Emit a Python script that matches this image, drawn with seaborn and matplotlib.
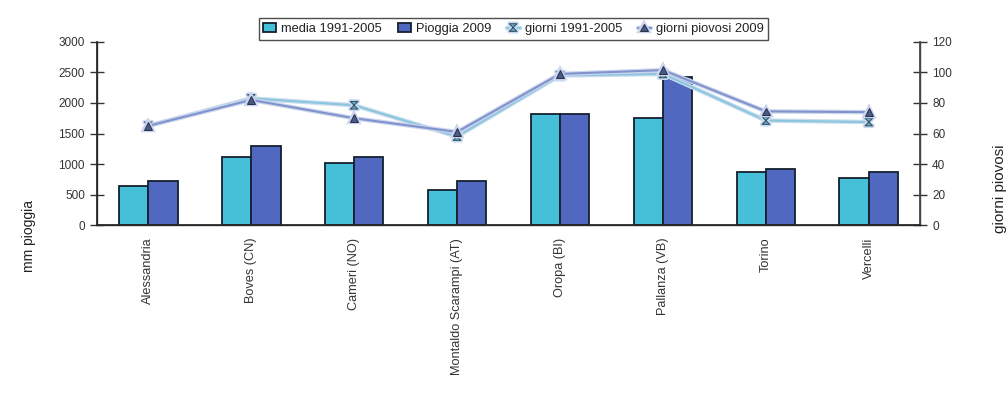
import numpy as np
import pandas as pd
import matplotlib
matplotlib.use("Agg")
import matplotlib.pyplot as plt
import matplotlib.patheffects as pe
from matplotlib.path import Path
import seaborn as sns

categories = ["Alessandria", "Boves (CN)", "Cameri (NO)", "Montaldo Scarampi (AT)",
              "Oropa (BI)", "Pallanza (VB)", "Torino", "Vercelli"]
media_1991_2005 = [640, 1120, 1015, 575, 1825, 1755, 865, 775]
pioggia_2009 = [715, 1300, 1120, 730, 1815, 2430, 920, 875]
giorni_1991_2005 = [65, 83, 78.5, 58, 98, 99, 68.5, 67.5]
giorni_piovosi_2009 = [65, 82, 70, 61, 99, 101.5, 74.5, 74]
bar_labels = ["media 1991-2005", "Pioggia 2009"]
line_labels = ["giorni 1991-2005", "giorni piovosi 2009"]

sns.set_theme(style="white")
plt.rcParams['font.family'] = ['Liberation Sans', 'DejaVu Sans']

df = pd.DataFrame({
    "cat": categories * 2,
    "val": media_1991_2005 + pioggia_2009,
    "serie": [bar_labels[0]] * len(categories) + [bar_labels[1]] * len(categories),
})

fig = plt.figure(figsize=(10.08, 3.95), dpi=100)
ax = fig.add_axes([0.096, 0.43, 0.817, 0.464])

sns.barplot(data=df, x="cat", y="val", hue="serie", order=categories,
            hue_order=bar_labels, palette=["#45c0d8", "#5068c0"],
            width=0.57, edgecolor="#15202e", linewidth=1.3, ax=ax,
            errorbar=None, saturation=1)

ax.set_xlim(-0.5, len(categories) - 0.5)
ax.set_ylim(0, 3000)
ax.set_yticks(np.arange(0, 3001, 500))
ax.set_xlabel("")
ax.set_ylabel("mm pioggia", fontsize=10, color="#222222")
ax.yaxis.set_label_coords(-0.074, -0.06)
ax.set_xticks(range(len(categories)))
ax.set_xticklabels(categories, rotation=90, fontsize=9.2, color="#333333")
ax.set_xticks(np.arange(0.5, len(categories) - 0.5, 1), minor=True)
ax.tick_params(axis="x", which="major", length=0, pad=9)
ax.tick_params(axis="x", which="minor", length=9, direction="inout", width=1, color="#333333")
ax.tick_params(axis="y", length=10, direction="inout", width=1, color="#333333",
               labelsize=8.5, labelcolor="#333333", left=True)
ax.spines["top"].set_visible(False)
for s in ["left", "bottom", "right"]:
    ax.spines[s].set_color("#444444")
    ax.spines[s].set_linewidth(1)

hb, lb = ax.get_legend_handles_labels()
if ax.get_legend() is not None:
    ax.get_legend().remove()

ax2 = ax.twinx()
hourglass = Path([(-1, 1), (1, 1), (-1, -1), (1, -1), (-1, 1)],
                 [Path.MOVETO, Path.LINETO, Path.LINETO, Path.LINETO, Path.CLOSEPOLY])
pos = np.arange(len(categories))
sns.lineplot(x=pos, y=giorni_1991_2005, ax=ax2, color="#8cc6de", linewidth=1.5,
             marker=hourglass, markersize=5.5, markerfacecolor="#6aaac4",
             markeredgecolor="#33506a", label=line_labels[0],
             path_effects=[pe.Stroke(linewidth=3.2, foreground="#c9dcef"), pe.Normal()])
sns.lineplot(x=pos, y=giorni_piovosi_2009, ax=ax2, color="#7f93cc", linewidth=1.5,
             marker="^", markersize=5.5, markerfacecolor="#4a5a86",
             markeredgecolor="#2a3350", label=line_labels[1],
             path_effects=[pe.Stroke(linewidth=3.2, foreground="#cdd5ee"), pe.Normal()])
ax2.set_ylim(0, 120)
ax2.set_yticks(np.arange(0, 121, 20))
ax2.set_xlim(-0.5, len(categories) - 0.5)
ax2.set_ylabel("giorni piovosi", fontsize=11, color="#222222", rotation=90)
ax2.yaxis.set_label_coords(1.088, 0.2)
ax2.tick_params(axis="y", length=10, direction="inout", width=1, color="#333333",
                labelsize=8.5, labelcolor="#333333", right=True)
ax2.spines["top"].set_visible(False)
ax2.spines["right"].set_color("#444444")
hl, ll = ax2.get_legend_handles_labels()
if ax2.get_legend() is not None:
    ax2.get_legend().remove()

leg = ax2.legend(hb + hl, lb + ll, loc="center", bbox_to_anchor=(0.506, 1.07), ncol=4,
                 fontsize=9.3, frameon=True, fancybox=False, edgecolor="#222222",
                 handlelength=1.0, handletextpad=0.4, columnspacing=1.2,
                 borderpad=0.35)
leg.get_frame().set_linewidth(1)
for t in leg.get_texts():
    t.set_color("#222222")

fig.savefig("out.png", dpi=100, facecolor="white")
